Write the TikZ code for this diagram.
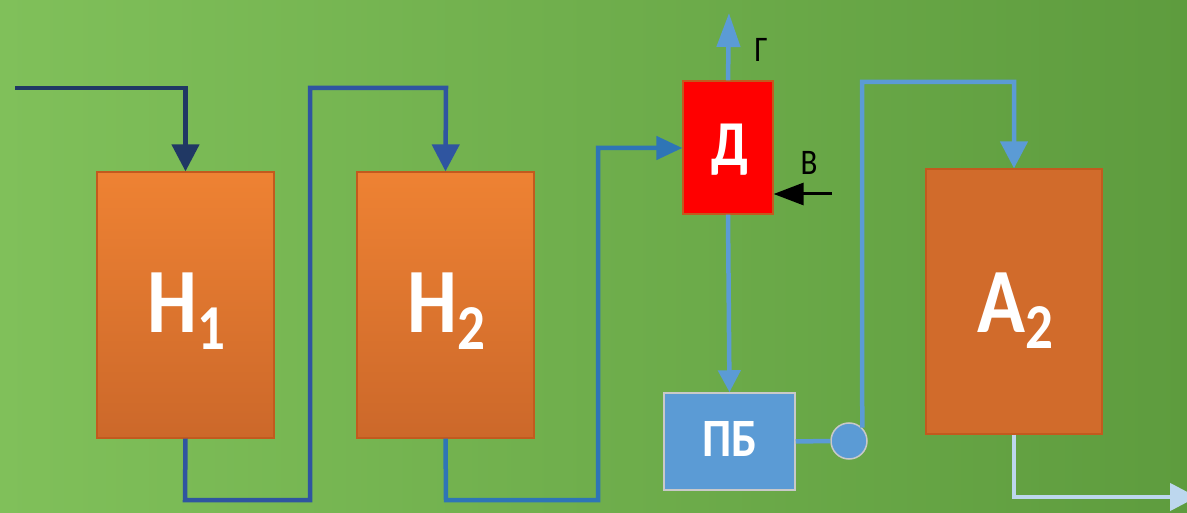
\documentclass[tikz,border=0pt]{standalone}
\usepackage{fontspec}
\setmainfont{Carlito}
\newfontfamily\lblfont[FakeStretch=0.86]{Carlito}
\usetikzlibrary{arrows.meta}
\definecolor{bgl}{HTML}{80C05A}
\definecolor{bgr}{HTML}{5E9C3E}
\definecolor{orT}{HTML}{EE8233}
\definecolor{orB}{HTML}{CC682A}
\definecolor{orA}{HTML}{D16B2B}
\definecolor{orD}{HTML}{C25A1E}
\definecolor{navy}{HTML}{203864}
\definecolor{blueA}{HTML}{2F55A0}
\definecolor{blueB}{HTML}{2E75B6}
\definecolor{blueL}{HTML}{5B9BD5}
\definecolor{blueP}{HTML}{BDD7EE}
\definecolor{brd}{HTML}{C9C9C9}
\tikzset{
  tank/.style={draw=orD, line width=1.2pt, top color=orT, bottom color=orB, minimum width=177pt, minimum height=266pt, inner sep=0pt},
  tankA/.style={draw=orD, line width=1.2pt, fill=orA, minimum width=176pt, minimum height=265pt, inner sep=0pt},
  bigtxt/.style={text=white, font=\lblfont\bfseries\fontsize{92}{92}\selectfont},
  pipe/.style={line width=4.5pt},
  bigarr/.style={-{Triangle[length=27pt,width=27pt]}},
  midarr/.style={-{Triangle[length=26pt,width=23pt]}},
  lbl/.style={font=\lblfont\fontsize{36}{36}\selectfont, text=black, inner sep=0pt}
}
\newcommand{\sbs}[1]{\raisebox{-17pt}{\fontsize{64}{64}\selectfont #1}}
\begin{document}
\begin{tikzpicture}[x=1pt,y=-1pt]
\shade[left color=bgl, right color=bgr] (0,0) rectangle (1187,513);
\useasboundingbox (0,0) rectangle (1187,513);

% units
\node[tank] (h1) at (185.5,305) {};
\node[tank] (h2) at (445.5,305) {};
\node[tankA] (a2) at (1014,301.5) {};
\node[draw=orD, line width=1.2pt, fill=red, minimum width=90pt, minimum height=133pt, inner sep=0pt] (d) at (728,147.5) {};
\node[draw=brd, line width=1.5pt, fill=blueL, minimum width=131pt, minimum height=97pt, inner sep=0pt] (pb) at (729.5,441.5) {};
\node[draw=brd, line width=1.5pt, fill=blueL, circle, minimum size=36pt, inner sep=0pt] (pump) at (849,441) {};

% labels
\node[bigtxt, anchor=base] (t1) at (186,333) {Н\sbs{1}};
\node[bigtxt, anchor=base] (t2) at (446,333) {Н\sbs{2}};
\node[bigtxt, anchor=base] (t3) at (1015,332) {А\sbs{2}};
\node[text=white, font=\lblfont\bfseries\fontsize{64}{64}\selectfont, anchor=base] (td) at (730,166) {Д};
\node[text=white, font=\lblfont\bfseries\fontsize{54}{54}\selectfont, anchor=base] (tpb) at (730,456) {ПБ};
\node[lbl, anchor=base] (lg) at (761,62) {Г};
\node[lbl, anchor=base] (lv) at (809,175) {В};

% coordinates
\coordinate (s0) at (15,88);
\coordinate (c1) at (185,500);
\coordinate (c2) at (310,500);
\coordinate (c3) at (310,88);
\coordinate (c4) at (446,88);
\coordinate (c5) at (446,500);
\coordinate (c6) at (598,500);
\coordinate (c7) at (598,148);
\coordinate (g) at (729,13);
\coordinate (v) at (832,194);
\coordinate (c8) at (862,82);
\coordinate (c9) at (1014,82);
\coordinate (c10) at (1014,497);
\coordinate (out) at (1187,497);

% connectors
\draw[pipe, navy, bigarr] (s0) -| (h1.north);
\draw[pipe, blueA, bigarr] (h1.south) -- (c1) -- (c2) -- (c3) -- (c4) -- (h2.north);
\draw[pipe, blueB, midarr] (h2.south) -- (c5) -- (c6) -- (c7) -- (d.west |- c7);
\draw[pipe, blueL, -{Triangle[length=34pt,width=23pt]}] (d.north) -- (g);
\draw[pipe, blueL, -{Triangle[length=22pt,width=22pt]}] (d.south) -- (pb.north);
\draw[line width=3pt, black, -{Triangle[length=30pt,width=22pt]}] (v) -- (d.east |- v);
\draw[pipe, blueL] (pb.east) -- (pump.west);
\draw[pipe, blueL, bigarr] (pump.45) -- (c8) -- (c9) -- (a2.north);
\draw[pipe, blueP, -{Triangle[length=27pt,width=27pt]}] (a2.south) -- (c10) -- ([xshift=10pt]out);
\end{tikzpicture}
\end{document}
